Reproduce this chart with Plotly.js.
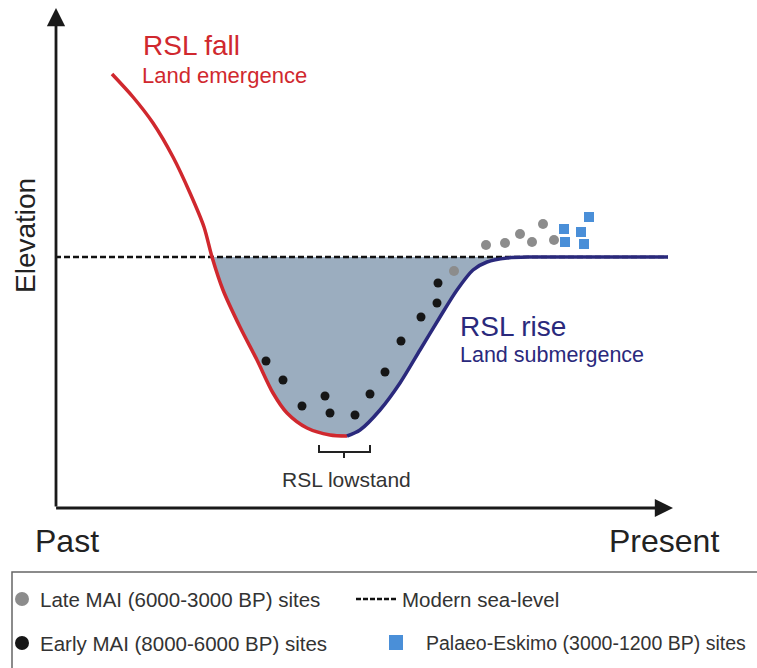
<!DOCTYPE html>
<html>
<head>
<meta charset="utf-8">
<script src="https://cdn.plot.ly/plotly-3.0.1.min.js"></script>
<style>html,body{margin:0;padding:0;background:#fff;}#chart{width:757px;height:668px;}</style>
</head>
<body>
<div id="chart"></div>
<script>
// Schematic relative sea-level (RSL) curve; x = time (past -> present), y = elevation relative to modern sea level
const rslFallX = [112, 133, 153, 173, 190, 204, 212, 223, 240, 257, 273, 287, 307, 330, 347];
const rslFallY = [183, 160, 134, 100, 64, 30, 0, -33, -70, -103, -136, -156, -171, -178, -179];
const rslRiseX = [347, 360, 380, 400, 420, 440, 457, 473, 487, 507, 530, 560, 600, 668];
const rslRiseY = [-179, -173, -153, -126, -93, -60, -33, -13, -5, -1, 0, 0, 0, 0];
const seaLevelX = [55, 668];
const seaLevelY = [0, 0];
const earlyMaiX = [266, 283, 302, 325, 330, 355, 370, 385, 401, 421, 437, 438];
const earlyMaiY = [-104, -123, -149, -139, -156, -158, -137, -115, -84, -60, -46, -26];
const lateMaiX = [454, 486, 505, 520, 532, 543, 554];
const lateMaiY = [-14, 12, 14, 23, 15, 33, 17];
const palaeoX = [564, 565, 581, 589, 584];
const palaeoY = [28, 15, 25, 40, 13];
const legendLabels = ["Late MAI (6000-3000 BP) sites", "Modern sea-level", "Early MAI (8000-6000 BP) sites", "Palaeo-Eskimo (3000-1200 BP) sites"];

const RED = "#d0282e", NAVY = "#2a297c", FILL = "#9badbf";
const FONT = "Liberation Sans, Arial, Helvetica, sans-serif";
// pixel -> data helpers for decorations (layout only)
const W = 757, H = 668, SEA_PX = 257;
const px = v => v;
const py = v => SEA_PX - v;

// fill polygon: portion of curve below sea level
const fillX = [], fillY = [];
rslFallX.forEach((x, i) => { if (rslFallY[i] <= 0) { fillX.push(x); fillY.push(rslFallY[i]); } });
rslRiseX.forEach((x, i) => { if (i > 0 && x <= 510) { fillX.push(x); fillY.push(rslRiseY[i]); } });

const traces = [
  {x: fillX, y: fillY, mode: "lines", line: {width: 0, shape: "spline", smoothing: 0.8}, fill: "tozeroy", fillcolor: FILL, hoverinfo: "skip", showlegend: false},
  {x: seaLevelX, y: seaLevelY, mode: "lines", line: {color: "#111", width: 2.5, dash: "6px,3px"}, showlegend: false},
  {x: rslFallX, y: rslFallY, mode: "lines", line: {color: RED, width: 3.5, shape: "spline", smoothing: 0.8}, showlegend: false},
  {x: rslRiseX, y: rslRiseY, mode: "lines", line: {color: NAVY, width: 3.5, shape: "spline", smoothing: 0.8}, showlegend: false},
  {x: earlyMaiX, y: earlyMaiY, mode: "markers", marker: {color: "#161616", size: 9}, showlegend: false},
  {x: lateMaiX, y: lateMaiY, mode: "markers", marker: {color: "#8c8c8c", size: 10}, showlegend: false},
  {x: palaeoX, y: palaeoY, mode: "markers", marker: {color: "#4a8fd8", size: 10, symbol: "square"}, showlegend: false}
];

function txt(text, x, y, size, color, opts) {
  return Object.assign({text: text, x: px(x), y: py(y), xref: "x", yref: "y", showarrow: false,
    xanchor: "left", yanchor: "middle", font: {family: FONT, size: size, color: color}}, opts || {});
}

const annotations = [
  // axis arrows
  {x: px(56), y: py(8), ax: px(56), ay: py(508), xref: "x", yref: "y", axref: "x", ayref: "y", text: "", showarrow: true, arrowhead: 2, arrowsize: 1.3, arrowwidth: 2.8, arrowcolor: "#1a1a1a"},
  {x: px(673), y: py(508), ax: px(54.6), ay: py(508), xref: "x", yref: "y", axref: "x", ayref: "y", text: "", showarrow: true, arrowhead: 2, arrowsize: 1.3, arrowwidth: 2.8, arrowcolor: "#1a1a1a"},
  txt("Elevation", 25, 236, 28, "#222", {xanchor: "center", textangle: -90}),
  txt("Past", 33, 541, 32, "#222"),
  txt("Present", 607, 541, 32, "#222"),
  txt("RSL fall", 141, 45, 28, RED),
  txt("Land emergence", 140, 75, 22, RED),
  txt("RSL rise", 458, 326, 28, NAVY),
  txt("Land submergence", 458, 355, 21.5, NAVY),
  txt("RSL lowstand", 346, 479, 21, "#333", {xanchor: "center"}),
  txt(legendLabels[0], 38, 599, 20.5, "#333"),
  txt(legendLabels[1], 400, 599, 20.5, "#333"),
  txt(legendLabels[2], 38, 643, 20.5, "#333"),
  txt(legendLabels[3], 424, 643, 19.5, "#333")
];

const shapes = [
  // lowstand bracket
  {type: "path", xref: "x", yref: "y", path: `M ${px(319)} ${py(445)} L ${px(319)} ${py(452)} L ${px(370)} ${py(452)} L ${px(370)} ${py(445)}`, line: {color: "#222", width: 2}},
  {type: "line", xref: "x", yref: "y", x0: px(344), x1: px(344), y0: py(452), y1: py(458), line: {color: "#222", width: 2}},
  // legend box
  {type: "rect", xref: "x", yref: "y", x0: px(12), x1: px(770), y0: py(572), y1: py(680), line: {color: "#666", width: 1.5}, fillcolor: "rgba(0,0,0,0)"},
  // legend symbols
  {type: "circle", xref: "x", yref: "y", x0: px(15), x1: px(29), y0: py(592), y1: py(606), line: {width: 0}, fillcolor: "#8c8c8c"},
  {type: "circle", xref: "x", yref: "y", x0: px(15), x1: px(29), y0: py(636), y1: py(650), line: {width: 0}, fillcolor: "#161616"},
  {type: "line", xref: "x", yref: "y", x0: px(356), x1: px(396), y0: py(599), y1: py(599), line: {color: "#111", width: 2.5, dash: "5px,2px"}},
  {type: "rect", xref: "x", yref: "y", x0: px(389), x1: px(403), y0: py(635), y1: py(650), line: {width: 0}, fillcolor: "#4a8fd8"}
];

const layout = {
  width: W, height: H,
  margin: {l: 0, r: 0, t: 0, b: 0},
  paper_bgcolor: "#fff", plot_bgcolor: "#fff",
  xaxis: {range: [0, W], visible: false, fixedrange: true},
  yaxis: {range: [SEA_PX - H, SEA_PX], visible: false, fixedrange: true},
  showlegend: false,
  annotations: annotations,
  shapes: shapes
};

Plotly.newPlot("chart", traces, layout, {staticPlot: true, displayModeBar: false});
</script>
</body>
</html>
